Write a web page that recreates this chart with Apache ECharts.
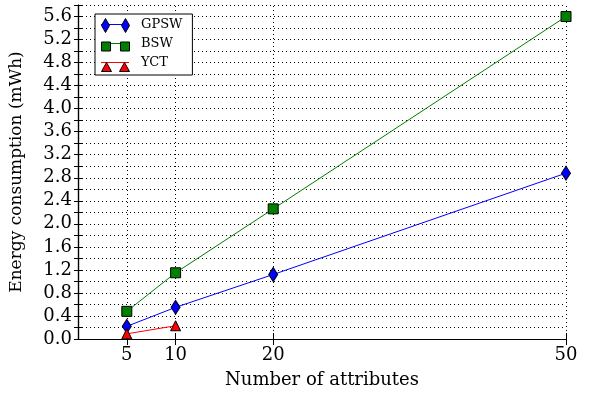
<!DOCTYPE html>
<html>
<head>
<meta charset="utf-8">
<script src="https://cdn.jsdelivr.net/npm/echarts@6/dist/echarts.min.js"></script>
<style>
html,body{margin:0;padding:0;background:#fff;}
#chart{width:590px;height:396px;}
</style>
</head>
<body>
<div id="chart"></div>
<script>
// ---- data ----
const seriesNames = ['GPSW', 'BSW', 'YCT'];
const gpswX = [5, 10, 20, 50];
const gpswY = [0.22, 0.55, 1.12, 2.88];
const bswX = [5, 10, 20, 50];
const bswY = [0.48, 1.15, 2.26, 5.6];
const yctX = [5, 10];
const yctY = [0.09, 0.23];
const xTicks = [5, 10, 20, 50];
const xLabel = 'Number of attributes';
const yLabel = 'Energy consumption (mWh)';

const FONT = 'DejaVu Serif';
const pair = (xs, ys) => xs.map((x, i) => [x, ys[i]]);

// legend icons: line-only and marker-only paths
const lineIcon = 'path://M0,0 L28,0 L28,1 L0,1 Z';
const markerIcons = {
  GPSW: 'path://M4,0 L8,7 L4,14 L0,7 Z M24,0 L28,7 L24,14 L20,7 Z',
  BSW: 'path://M0,2.5 L9,2.5 L9,11.5 L0,11.5 Z M19,2.5 L28,2.5 L28,11.5 L19,11.5 Z M0,0 L0,0 M0,14 L0,14',
  YCT: 'path://M5,2 L10,11 L0,11 Z M23,2 L28,11 L18,11 Z'
};

const legendBase = {
  orient: 'vertical',
  left: 95,
  top: 14,
  itemWidth: 28,
  itemHeight: 14,
  itemGap: 6,
  padding: [4, 10, 6, 6],
  selectedMode: false
};

const chart = echarts.init(document.getElementById('chart'), null, {renderer: 'canvas'});
const axisLineStyle = {color: '#000', width: 1.2};
const dotted = {color: '#000', type: [1, 3], width: 1};
const option = {
  animation: false,
  backgroundColor: '#fff',
  grid: {left: 77, right: 24, top: 5, bottom: 57, containLabel: false},
  legend: [
    Object.assign({}, legendBase, {
      data: seriesNames.map(n => ({name: n, icon: lineIcon})),
      itemStyle: {borderWidth: 0},
      backgroundColor: '#fff',
      borderColor: '#000',
      borderWidth: 1,
      textStyle: {fontFamily: FONT, fontSize: 13, color: '#000', padding: [0, 0, 0, 7]},
      z: 10
    }),
    Object.assign({}, legendBase, {
      data: seriesNames.map(n => ({name: n, icon: markerIcons[n]})),
      itemStyle: {borderColor: '#000', borderWidth: 1},
      formatter: () => '',
      textStyle: {fontFamily: FONT, fontSize: 13, color: '#000', padding: [0, 0, 0, 7]},
      z: 11
    })
  ],
  xAxis: [
    {
      type: 'value', position: 'bottom', min: 0, max: 50,
      axisLine: {lineStyle: axisLineStyle},
      axisTick: {inside: true, length: 6, customValues: xTicks, lineStyle: {color: '#000'}},
      axisLabel: {customValues: xTicks, fontFamily: FONT, fontSize: 18, color: '#000', margin: 7},
      splitLine: {show: false},
      name: xLabel, nameLocation: 'middle', nameGap: 32,
      nameTextStyle: {fontFamily: FONT, fontSize: 18, color: '#000'}
    },
    {
      type: 'value', position: 'top', min: 0, max: 50,
      axisLine: {show: true, lineStyle: axisLineStyle},
      axisTick: {inside: true, length: 6, customValues: xTicks, lineStyle: {color: '#000'}},
      axisLabel: {show: false},
      splitLine: {show: false}
    }
  ],
  yAxis: [
    {
      type: 'value', position: 'left', min: 0, max: 5.8, interval: 0.2,
      axisLine: {show: true, lineStyle: axisLineStyle},
      axisTick: {show: true, inside: true, length: 4, lineStyle: {color: '#000'}},
      axisLabel: {
        showMinLabel: true, hideOverlap: false,
        formatter: v => (Math.round(v * 10) % 4 === 0 ? v.toFixed(1) : ''),
        fontFamily: FONT, fontSize: 18, color: '#000', margin: 6
      },
      splitLine: {show: true, lineStyle: dotted},
      name: yLabel, nameLocation: 'middle', nameGap: 53, nameRotate: 90,
      nameTextStyle: {fontFamily: FONT, fontSize: 17, color: '#000'}
    },
    {
      type: 'value', position: 'right', min: 0, max: 5.8, interval: 0.2,
      axisLine: {show: true, lineStyle: axisLineStyle},
      axisTick: {show: true, inside: true, length: 4, lineStyle: {color: '#000'}},
      axisLabel: {show: false},
      splitLine: {show: false}
    }
  ],
  series: [
    {
      name: 'GPSW', type: 'line', xAxisIndex: 0, yAxisIndex: 0,
      data: pair(gpswX, gpswY),
      symbol: 'diamond', symbolSize: [9, 14],
      color: '#0000ff',
      lineStyle: {width: 1, color: '#0000ff'},
      itemStyle: {color: '#0000ff', borderColor: '#000', borderWidth: 1},
      z: 3,
      markLine: {
        silent: true, symbol: 'none', label: {show: false},
        lineStyle: dotted,
        data: xTicks.map(v => ({xAxis: v})),
        z: 1
      }
    },
    {
      name: 'BSW', type: 'line', xAxisIndex: 0, yAxisIndex: 0,
      data: pair(bswX, bswY),
      symbol: 'rect', symbolSize: [10, 10],
      color: '#008000',
      lineStyle: {width: 1, color: '#008000'},
      itemStyle: {color: '#008000', borderColor: '#000', borderWidth: 1},
      z: 3
    },
    {
      name: 'YCT', type: 'line', xAxisIndex: 0, yAxisIndex: 0,
      data: pair(yctX, yctY),
      symbol: 'triangle', symbolSize: [10, 10],
      color: '#ff0000',
      lineStyle: {width: 1, color: '#ff0000'},
      itemStyle: {color: '#ff0000', borderColor: '#000', borderWidth: 1},
      z: 3
    }
  ]
};
chart.setOption(option);
</script>
</body>
</html>
